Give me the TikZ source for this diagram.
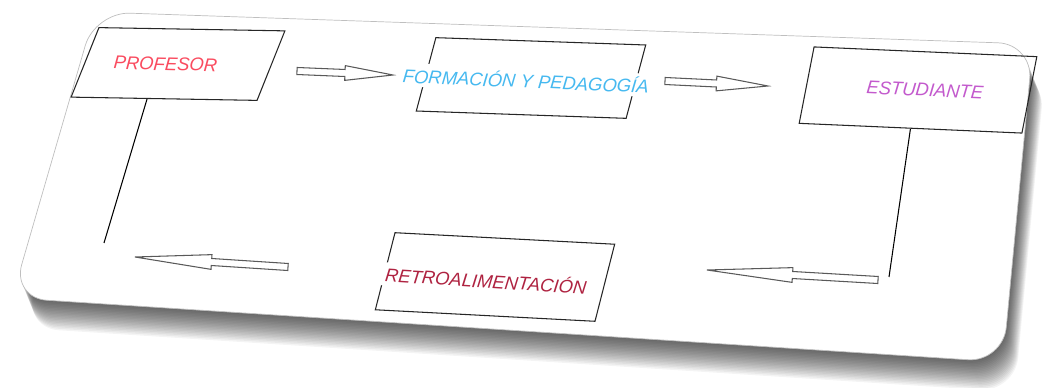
\documentclass[tikz,border=0pt]{standalone}
\usepackage{fontspec}
\setmainfont{Liberation Sans}
\usepackage{xcolor}
\usetikzlibrary{calc, positioning}

\definecolor{profred}{RGB}{250,75,95}
\definecolor{formblue}{RGB}{70,185,240}
\definecolor{estpurple}{RGB}{195,90,205}
\definecolor{retrored}{RGB}{175,35,65}

\newcommand{\slabpath}{(95,12) -- (1033,44) -- (1003,362) -- (12,298) -- cycle}

\tikzset{
  tilt/.style 2 args={rotate=#1, xslant=#2},
  card/.style={draw=black!85, line width=0.6pt, inner sep=0pt},
  cardtext/.style={fill=white, inner sep=2pt, font=\fontsize{10.5}{12}\selectfont\itshape},
  hollow/.style={draw=black!65, line width=0.6pt, fill=white,
    to path={let \p2=($(\tikztostart)!0.5!(\tikztotarget)$) in
      ($(\tikztostart)!2pt!90:(\tikztotarget)$) -- ($(\p2)!2pt!90:(\tikztotarget)$)
      -- ($(\p2)!4.2pt!90:(\tikztotarget)$) -- (\tikztotarget)
      -- ($(\p2)!4.2pt!-90:(\tikztotarget)$) -- ($(\p2)!2pt!-90:(\tikztotarget)$)
      -- ($(\tikztostart)!2pt!-90:(\tikztotarget)$) -- cycle}}
}

\begin{document}
\begin{tikzpicture}[x=0.02cm, y=-0.02cm]
    \useasboundingbox (0,0) rectangle (1045,388);

    % slab with its shadow
    \foreach \k in {1,...,20}
        \fill[black, opacity=0.045, shift={(0.6*\k,1.5*\k)}, rounded corners=0.7cm] \slabpath;
    \fill[white, draw=black!25, rounded corners=0.7cm] \slabpath;

    % boxes
    \node[card, tilt={-1}{0.38}, minimum width=3.72cm, minimum height=1.4cm] (profesor) at (178,64) {};
    \node[cardtext, tilt={-1.5}{0.05}, text=profred] at ([xshift=-0.25cm]profesor.center) {PROFESOR};

    \node[card, tilt={-2}{0.23}, minimum width=4.2cm, minimum height=1.48cm] (formacion) at (531,78) {};
    \node[cardtext, tilt={-2.5}{0.05}, text=formblue] at ([xshift=-0.1cm, yshift=-0.04cm]formacion.center) {FORMACIÓN Y PEDAGOGÍA};

    \node[card, tilt={-2.5}{0.15}, minimum width=4.46cm, minimum height=1.54cm] (estudiante) at (918,90) {};
    \node[cardtext, tilt={-2.5}{0.05}, text=estpurple] at ([xshift=0.14cm]estudiante.center) {ESTUDIANTE};

    \node[card, tilt={-3}{0.2}, minimum width=4.4cm, minimum height=1.56cm] (retro) at (495,277) {};
    \node[cardtext, tilt={-3.5}{0.05}, text=retrored] at ([xshift=-0.18cm, yshift=-0.06cm]retro.center) {RETROALIMENTACIÓN};

    % hollow arrows
    \coordinate (a1s) at (297,71);
    \coordinate (a1e) at (393,75);
    \coordinate (a2s) at (665,81);
    \coordinate (a2e) at (768,86);
    \coordinate (a3s) at (288,267);
    \coordinate (a3e) at (135,257);
    \coordinate (a4s) at (878,280);
    \coordinate (a4e) at (707,270);
    \draw[hollow] (a1s) to (a1e);
    \draw[hollow] (a2s) to (a2e);
    \draw[hollow] (a3s) to (a3e);
    \draw[hollow] (a4s) to (a4e);

    % side lines
    \coordinate (profend) at (104,243);
    \coordinate (estend) at (889,277);
    \draw[line width=0.6pt] ($(profesor.south west)!0.41!(profesor.south east)$) -- (profend);
    \draw[line width=0.6pt] (estudiante.south) -- (estend);
\end{tikzpicture}
\end{document}
